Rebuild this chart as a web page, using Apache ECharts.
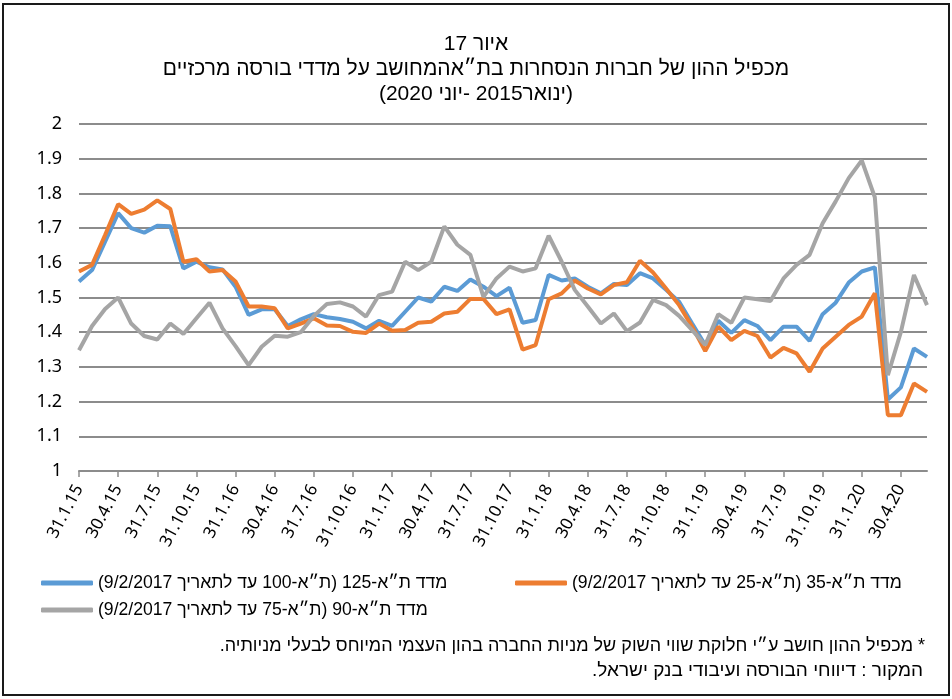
<!DOCTYPE html>
<html>
<head>
<meta charset="utf-8">
<script src="https://cdn.jsdelivr.net/npm/echarts@6/dist/echarts.min.js"></script>
<style>
  html, body { margin: 0; padding: 0; background: #fff; }
  #chart { width: 952px; height: 699px; }
</style>
</head>
<body>
<div id="chart" dir="rtl"></div>
<script>
const months = [
  "31.1.15", "28.2.15", "31.3.15", "30.4.15", "31.5.15", "30.6.15", "31.7.15", "31.8.15", "30.9.15", "31.10.15", "30.11.15", "31.12.15",
  "31.1.16", "29.2.16", "31.3.16", "30.4.16", "31.5.16", "30.6.16", "31.7.16", "31.8.16", "30.9.16", "31.10.16", "30.11.16", "31.12.16",
  "31.1.17", "28.2.17", "31.3.17", "30.4.17", "31.5.17", "30.6.17", "31.7.17", "31.8.17", "30.9.17", "31.10.17", "30.11.17", "31.12.17",
  "31.1.18", "28.2.18", "31.3.18", "30.4.18", "31.5.18", "30.6.18", "31.7.18", "31.8.18", "30.9.18", "31.10.18", "30.11.18", "31.12.18",
  "31.1.19", "28.2.19", "31.3.19", "30.4.19", "31.5.19", "30.6.19", "31.7.19", "31.8.19", "30.9.19", "31.10.19", "30.11.19", "31.12.19",
  "31.1.20", "29.2.20", "31.3.20", "30.4.20", "31.5.20", "30.6.20"
];

const ta125 = [
  1.546, 1.579, 1.661, 1.743, 1.700, 1.687, 1.707, 1.705, 1.584, 1.603, 1.587, 1.581,
  1.531, 1.450, 1.466, 1.466, 1.418, 1.437, 1.452, 1.443, 1.438, 1.430, 1.411, 1.433,
  1.418, 1.459, 1.500, 1.488, 1.531, 1.519, 1.552, 1.531, 1.504, 1.528, 1.427, 1.435,
  1.565, 1.549, 1.555, 1.531, 1.512, 1.539, 1.536, 1.570, 1.555, 1.522, 1.488, 1.425,
  1.363, 1.433, 1.398, 1.435, 1.418, 1.377, 1.416, 1.416, 1.375, 1.452, 1.485, 1.543,
  1.575, 1.587, 1.206, 1.241, 1.353, 1.329
];

const ta35 = [
  1.575, 1.594, 1.680, 1.769, 1.741, 1.753, 1.780, 1.755, 1.603, 1.610, 1.575, 1.579,
  1.546, 1.474, 1.474, 1.469, 1.411, 1.425, 1.440, 1.419, 1.418, 1.401, 1.398, 1.425,
  1.404, 1.406, 1.427, 1.430, 1.454, 1.459, 1.496, 1.496, 1.452, 1.466, 1.350, 1.363,
  1.495, 1.512, 1.549, 1.526, 1.509, 1.536, 1.544, 1.606, 1.572, 1.526, 1.478, 1.416,
  1.346, 1.416, 1.377, 1.404, 1.389, 1.327, 1.355, 1.339, 1.286, 1.353, 1.387, 1.421,
  1.445, 1.512, 1.161, 1.161, 1.252, 1.228
];

const ta90 = [
  1.348, 1.418, 1.467, 1.500, 1.425, 1.389, 1.379, 1.425, 1.395, 1.440, 1.485, 1.411,
  1.360, 1.305, 1.358, 1.390, 1.387, 1.400, 1.447, 1.481, 1.486, 1.474, 1.445, 1.507,
  1.517, 1.603, 1.579, 1.603, 1.705, 1.652, 1.623, 1.502, 1.555, 1.589, 1.575, 1.584,
  1.678, 1.603, 1.522, 1.474, 1.425, 1.454, 1.403, 1.428, 1.493, 1.478, 1.447, 1.406,
  1.363, 1.452, 1.427, 1.500, 1.495, 1.490, 1.555, 1.594, 1.623, 1.714, 1.777, 1.844,
  1.895, 1.789, 1.276, 1.401, 1.565, 1.478
];

const names = [
  "מדד ת״א-125 (ת״א-100 עד לתאריך 9/2/2017)",
  "מדד ת״א-35 (ת״א-25 עד לתאריך 9/2/2017)",
  "מדד ת״א-90 (ת״א-75 עד לתאריך 9/2/2017)"
];
const colors = ["#5B9BD5", "#ED7D31", "#A5A5A5"];

const titleLines = [
  "איור 17",
  "מכפיל ההון של חברות הנסחרות בת״אהמחושב על מדדי בורסה מרכזיים",
  "(ינואר2015 -יוני 2020)"
];
const footnote = "* מכפיל ההון חושב ע״י חלוקת שווי השוק של מניות החברה בהון העצמי המיוחס לבעלי מניותיה.";
const source = "המקור : דיווחי הבורסה ועיבודי בנק ישראל.";

const hebFont = "'Liberation Sans', sans-serif";
const numFont = "'Noto Sans', sans-serif";

const chart = echarts.init(document.getElementById("chart"), null, { renderer: "canvas" });

function legendFor(i, left, top) {
  return {
    data: [names[i]],
    left: left,
    top: top,
    icon: "roundRect",
    itemWidth: 52,
    itemHeight: 5,
    itemGap: 4,
    textStyle: { fontFamily: hebFont, fontSize: 17.6, color: "#000" }
  };
}

chart.setOption({
  animation: false,
  backgroundColor: "#fff",
  color: colors,
  title: [
    {
      text: titleLines.join("\n"),
      left: "center",
      top: 27,
      textStyle: { fontFamily: hebFont, fontSize: 21, fontWeight: "normal", color: "#000", lineHeight: 25 }
    },
    {
      text: footnote,
      right: 22,
      top: 632,
      textStyle: { fontFamily: hebFont, fontSize: 18, fontWeight: "normal", color: "#000" }
    },
    {
      text: source,
      right: 24,
      top: 656,
      textStyle: { fontFamily: hebFont, fontSize: 19, fontWeight: "normal", color: "#000" }
    }
  ],
  legend: [legendFor(0, 36, 569), legendFor(1, 510, 569), legendFor(2, 36, 596)],
  grid: { left: 79, right: 25, top: 124, bottom: 228 },
  xAxis: {
    type: "category",
    data: months,
    boundaryGap: false,
    axisLine: { lineStyle: { color: "#8c8c8c", width: 2 } },
    axisTick: { interval: 2, length: 6, lineStyle: { color: "#8c8c8c", width: 1.5 } },
    axisLabel: {
      interval: 2,
      rotate: 62,
      margin: 15,
      fontFamily: numFont,
      fontSize: 17,
      color: "#000"
    },
    splitLine: { show: false }
  },
  yAxis: {
    type: "value",
    min: 1,
    max: 2,
    interval: 0.1,
    axisLine: { show: false },
    axisTick: { show: false },
    axisLabel: {
      margin: 17,
      fontFamily: numFont,
      fontSize: 18,
      color: "#000",
      formatter: (v) => String(Math.round(v * 10) / 10)
    },
    splitLine: { lineStyle: { color: "#8c8c8c", width: 2 } }
  },
  series: [
    { name: names[0], type: "line", data: ta125, showSymbol: false, lineStyle: { width: 4, color: colors[0] } },
    { name: names[1], type: "line", data: ta35, showSymbol: false, lineStyle: { width: 4, color: colors[1] } },
    { name: names[2], type: "line", data: ta90, showSymbol: false, lineStyle: { width: 4, color: colors[2] } }
  ],
  graphic: [
    {
      type: "rect",
      shape: { x: 3, y: 4, width: 946, height: 691 },
      style: { fill: null, stroke: "#1a1a1a", lineWidth: 2 },
      silent: true
    }
  ]
});
</script>
</body>
</html>
